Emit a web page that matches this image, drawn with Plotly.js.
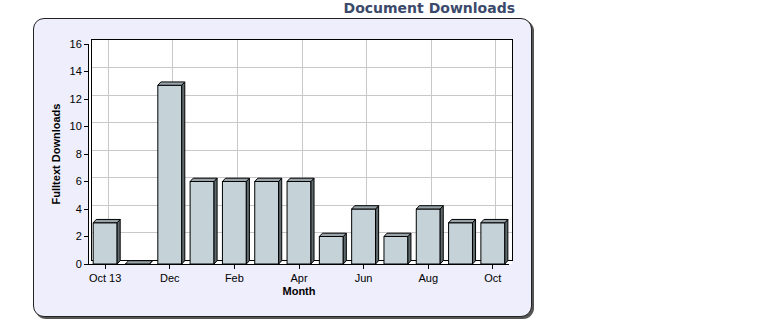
<!DOCTYPE html>
<html>
<head>
<meta charset="utf-8">
<script src="https://cdn.plot.ly/plotly-3.0.1.min.js"></script>
<style>
  html, body { margin: 0; padding: 0; background: #ffffff; }
  #panel { position: absolute; left: 33px; top: 18px; width: 497px; height: 297px;
           background: #eeeefc; border: 1px solid #222; border-radius: 11px;
           box-shadow: 2px 2px 0 #555; }
  #chart { position: absolute; left: 0; top: 0; width: 772px; height: 320px; }
</style>
</head>
<body>
<div id="panel"></div>
<div id="chart"></div>
<script>
// ---- data ----
const months = ["Oct 13", "Nov", "Dec", "Jan", "Feb", "Mar", "Apr", "May", "Jun", "Jul", "Aug", "Sep", "Oct"];
const downloads = [3, 0, 13, 6, 6, 6, 6, 2, 4, 2, 4, 3, 3];
const tickIdx = [0, 2, 4, 6, 8, 10, 12];
const tickLabels = ["Oct 13", "Dec", "Feb", "Apr", "Jun", "Aug", "Oct"];

// ---- 3D look parameters ----
const barW = 0.74, depthX = 0.095, depthY = 0.24;
const idx = months.map((_, i) => i);

const sideX = [], sideY = [], topX = [], topY = [];
idx.forEach(i => {
  const v = downloads[i];
  const x0 = i - barW / 2, x1 = i + barW / 2;
  sideX.push(x1, x1 + depthX, x1 + depthX, x1, x1, null);
  sideY.push(0, depthY, v + depthY, v, 0, null);
  topX.push(x0, x0 + depthX, x1 + depthX, x1, x0, null);
  topY.push(v, v + depthY, v + depthY, v, v, null);
});

const font = "Liberation Sans, Arial, sans-serif";
const traces = [
  // anchor trace for the back-wall (grid) axes
  { type: "scatter", mode: "markers", x: [0], y: [0], xaxis: "x", yaxis: "y",
    marker: { opacity: 0, size: 1 }, hoverinfo: "skip" },
  { type: "bar", x: idx, y: downloads, width: barW, xaxis: "x2", yaxis: "y2",
    marker: { color: "#c5d3d9", line: { color: "#000", width: 1 } }, hoverinfo: "skip" },
  { type: "scatter", mode: "lines", x: sideX, y: sideY, fill: "toself", xaxis: "x2", yaxis: "y2",
    fillcolor: "#5f6a6e", line: { color: "#000", width: 1 }, hoverinfo: "skip" },
  { type: "scatter", mode: "lines", x: topX, y: topY, fill: "toself", xaxis: "x2", yaxis: "y2",
    fillcolor: "#97a3a8", line: { color: "#000", width: 1 }, hoverinfo: "skip" }
];

const W = 423, H = 224;
const layout = {
  width: 772, height: 320,
  margin: { l: 89, r: 260, t: 40, b: 56 },
  paper_bgcolor: "rgba(0,0,0,0)", plot_bgcolor: "rgba(0,0,0,0)",
  showlegend: false, hovermode: false, bargap: 0,
  shapes: [
    { type: "rect", xref: "paper", yref: "paper", x0: 0, x1: 1, y0: 0, y1: 1,
      fillcolor: "#ffffff", line: { width: 0 }, layer: "below" }
  ],
  title: { text: "<b>Document Downloads</b>", x: 515 / 772, xref: "container", xanchor: "right",
           y: 1 - 8 / 320, yref: "container", yanchor: "middle",
           font: { family: "DejaVu Sans, Verdana, sans-serif", size: 14, color: "#3b4a6b" } },
  // back wall (grid)
  xaxis: { domain: [3 / W, 1], range: [-0.5, 12.5], tickvals: tickIdx, showticklabels: false, anchor: "y",
           ticks: "", showgrid: true, gridcolor: "#c8c8c8", gridwidth: 1, zeroline: false,
           showline: true, linecolor: "#000", linewidth: 1, mirror: true, fixedrange: true },
  yaxis: { domain: [4 / H, 1], range: [0, 16], dtick: 2, showticklabels: false, anchor: "x",
           ticks: "", showgrid: true, gridcolor: "#c8c8c8", gridwidth: 1, zeroline: false,
           showline: true, linecolor: "#000", linewidth: 1, mirror: true, fixedrange: true },
  // front axes (ticks & labels)
  xaxis2: { domain: [0, 420 / W], range: [-0.5, 12.5], anchor: "y2",
            tickvals: tickIdx, ticktext: tickLabels, ticks: "outside", ticklen: 4, tickcolor: "#000",
            showgrid: false, zeroline: false, showline: true, linecolor: "#000", linewidth: 1,
            tickfont: { family: font, size: 11, color: "#000" },
            title: { text: "<b>Month</b>", standoff: 4, font: { family: font, size: 11, color: "#000" } },
            fixedrange: true },
  yaxis2: { domain: [0, 220 / H], range: [0, 16], dtick: 2, anchor: "x2",
            ticks: "outside", ticklen: 4, tickcolor: "#000",
            showgrid: false, zeroline: false, showline: true, linecolor: "#000", linewidth: 1,
            tickfont: { family: font, size: 11, color: "#000" },
            title: { text: "<b>Fulltext Downloads</b>", standoff: 6, font: { family: font, size: 11, color: "#000" } },
            fixedrange: true }
};

Plotly.newPlot("chart", traces, layout, { displayModeBar: false, staticPlot: true });
</script>
</body>
</html>
